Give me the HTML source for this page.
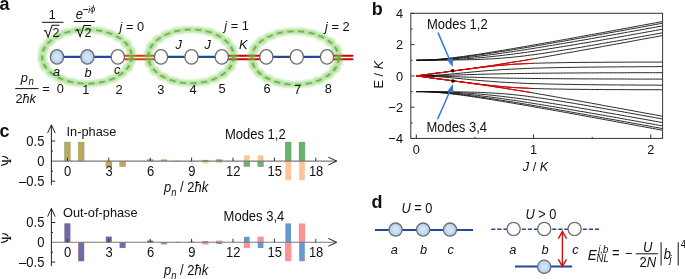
<!DOCTYPE html>
<html><head><meta charset="utf-8"><style>
html,body{margin:0;padding:0;background:#fff;}
svg{display:block;will-change:transform;}
text{font-family:"Liberation Sans", sans-serif;fill:#111;}
</style></head><body>
<svg width="685" height="279" viewBox="0 0 685 279">
<defs>
<radialGradient id="cg" cx="0.5" cy="0.5" r="0.5">
<stop offset="0" stop-color="#e0dfe2"/><stop offset="0.3" stop-color="#d4e4f6"/><stop offset="1" stop-color="#abcbef"/>
</radialGradient>
<filter id="glow" x="-10%" y="-10%" width="120%" height="120%">
<feMorphology in="SourceAlpha" operator="dilate" radius="2.2" result="d"/>
<feGaussianBlur in="d" stdDeviation="0.9" result="b"/>
<feFlood flood-color="#78c850" flood-opacity="0.40"/>
<feComposite in2="b" operator="in" result="g"/>
<feMerge><feMergeNode in="g"/></feMerge>
</filter>
<filter id="blur1" x="-20%" y="-20%" width="140%" height="140%"><feGaussianBlur stdDeviation="0.9"/></filter>
</defs>
<g><line x1="57.0" y1="56.9" x2="117.8" y2="56.9" stroke="#23489a" stroke-width="2.3"/><line x1="161.0" y1="56.9" x2="221.8" y2="56.9" stroke="#23489a" stroke-width="2.3"/><line x1="266.3" y1="56.9" x2="327.0" y2="56.9" stroke="#23489a" stroke-width="2.3"/><line x1="117.8" y1="55.8" x2="161.0" y2="55.8" stroke="#d83c00" stroke-width="1.9" stroke-linecap="round"/><line x1="117.8" y1="59.2" x2="161.0" y2="59.2" stroke="#d83c00" stroke-width="1.9" stroke-linecap="round"/><line x1="221.8" y1="55.8" x2="266.3" y2="55.8" stroke="#cc0000" stroke-width="1.9" stroke-linecap="round"/><line x1="221.8" y1="59.2" x2="266.3" y2="59.2" stroke="#cc0000" stroke-width="1.9" stroke-linecap="round"/><line x1="327.0" y1="55.8" x2="352.5" y2="55.8" stroke="#cc0000" stroke-width="1.9" stroke-linecap="round"/><line x1="327.0" y1="59.2" x2="352.5" y2="59.2" stroke="#cc0000" stroke-width="1.9" stroke-linecap="round"/><g transform="translate(86.9,56.6) scale(1.2,1)"><ellipse cx="0" cy="0" rx="37.33" ry="27.1" fill="none" stroke="#78c850" stroke-opacity="0.17" stroke-width="6.0" filter="url(#blur1)"/></g><g transform="translate(191.0,56.4) scale(1.2,1)"><ellipse cx="0" cy="0" rx="35.58" ry="26.9" fill="none" stroke="#78c850" stroke-opacity="0.17" stroke-width="6.0" filter="url(#blur1)"/></g><g transform="translate(295.2,57.9) scale(1.2,1)"><ellipse cx="0" cy="0" rx="36.25" ry="26.7" fill="none" stroke="#78c850" stroke-opacity="0.17" stroke-width="6.0" filter="url(#blur1)"/></g><g transform="translate(86.9,56.6) scale(1.2,1)"><ellipse cx="0" cy="0" rx="37.33" ry="27.1" fill="none" stroke="#000" stroke-width="1.9" stroke-dasharray="5.1 3.8" filter="url(#glow)"/></g><g transform="translate(191.0,56.4) scale(1.2,1)"><ellipse cx="0" cy="0" rx="35.58" ry="26.9" fill="none" stroke="#000" stroke-width="1.9" stroke-dasharray="5.1 3.8" filter="url(#glow)"/></g><g transform="translate(295.2,57.9) scale(1.2,1)"><ellipse cx="0" cy="0" rx="36.25" ry="26.7" fill="none" stroke="#000" stroke-width="1.9" stroke-dasharray="5.1 3.8" filter="url(#glow)"/></g><g transform="translate(86.9,56.6) scale(1.2,1)"><ellipse cx="0" cy="0" rx="37.33" ry="27.1" fill="none" stroke="#62b040" stroke-opacity="0.85" stroke-width="1.9" stroke-dasharray="5.1 3.8"/></g><g transform="translate(191.0,56.4) scale(1.2,1)"><ellipse cx="0" cy="0" rx="35.58" ry="26.9" fill="none" stroke="#62b040" stroke-opacity="0.85" stroke-width="1.9" stroke-dasharray="5.1 3.8"/></g><g transform="translate(295.2,57.9) scale(1.2,1)"><ellipse cx="0" cy="0" rx="36.25" ry="26.7" fill="none" stroke="#62b040" stroke-opacity="0.85" stroke-width="1.9" stroke-dasharray="5.1 3.8"/></g><ellipse cx="57.0" cy="56.9" rx="6.6" ry="7.2" fill="url(#cg)" stroke="#6e6e6e" stroke-width="1.3"/><ellipse cx="87.4" cy="56.9" rx="6.6" ry="7.2" fill="url(#cg)" stroke="#6e6e6e" stroke-width="1.3"/><ellipse cx="117.8" cy="56.9" rx="6.6" ry="7.2" fill="#fff" stroke="#6e6e6e" stroke-width="1.3"/><ellipse cx="161.0" cy="56.9" rx="6.6" ry="7.2" fill="#fff" stroke="#6e6e6e" stroke-width="1.3"/><ellipse cx="191.5" cy="56.9" rx="6.6" ry="7.2" fill="#fff" stroke="#6e6e6e" stroke-width="1.3"/><ellipse cx="221.8" cy="56.9" rx="6.6" ry="7.2" fill="#fff" stroke="#6e6e6e" stroke-width="1.3"/><ellipse cx="266.3" cy="56.9" rx="6.6" ry="7.2" fill="#fff" stroke="#6e6e6e" stroke-width="1.3"/><ellipse cx="296.8" cy="56.9" rx="6.6" ry="7.2" fill="#fff" stroke="#6e6e6e" stroke-width="1.3"/><ellipse cx="327.0" cy="56.9" rx="6.6" ry="7.2" fill="#fff" stroke="#6e6e6e" stroke-width="1.3"/></g><text transform="translate(-0.6,10.4) scale(1,1.07)" font-size="18" font-weight="bold">a</text><text transform="translate(52.3,18.6) scale(1,1.06)" font-size="12.5" text-anchor="middle">1</text><line x1="42" y1="22.3" x2="63.5" y2="22.3" stroke="#111" stroke-width="1"/><path d="M44,31.2 L45.6,30.4 L48.1,37.2 L52.2,25.2 L59.4,25.2" fill="none" stroke="#111" stroke-width="1.05"/><text transform="translate(52.4,37.2) scale(1,1.06)" font-size="12.5" text-anchor="start">2</text><text transform="translate(75.7,18.9) scale(1,1.06)" font-size="13.2" text-anchor="start" font-style="italic">e</text><line x1="83.2" y1="9.5" x2="88.2" y2="9.5" stroke="#111" stroke-width="0.9"/><text transform="translate(88.3,12.8) scale(1,1.06)" font-size="8.5" text-anchor="start" font-style="italic">i</text><text transform="translate(90.3,12.0) scale(1,1.06)" font-size="9" text-anchor="start" font-style="italic">ϕ</text><line x1="74" y1="21.5" x2="95" y2="21.5" stroke="#111" stroke-width="1"/><path d="M76,30.4 L77.6,29.6 L80.1,36.6 L84.0,25.4 L91.0,25.4" fill="none" stroke="#111" stroke-width="1.05"/><text transform="translate(84.4,37.0) scale(1,1.06)" font-size="12.5" text-anchor="start">2</text><text transform="translate(119.5,31.0) scale(1,1.06)" font-size="12.8" text-anchor="start"><tspan font-style="italic">j</tspan> = 0</text><text transform="translate(224.3,30.3) scale(1,1.06)" font-size="12.8" text-anchor="start"><tspan font-style="italic">j</tspan> = 1</text><text transform="translate(325.0,31.0) scale(1,1.06)" font-size="12.8" text-anchor="start"><tspan font-style="italic">j</tspan> = 2</text><text transform="translate(175.5,48.6) scale(1,1.06)" font-size="12.8" text-anchor="start" font-style="italic">J</text><text transform="translate(204.6,48.6) scale(1,1.06)" font-size="12.8" text-anchor="start" font-style="italic">J</text><text transform="translate(239.0,48.6) scale(1,1.06)" font-size="12.8" text-anchor="start" font-style="italic">K</text><text transform="translate(53.0,75.6) scale(1,1.06)" font-size="12.8" text-anchor="start" font-style="italic">a</text><text transform="translate(84.6,77.0) scale(1,1.06)" font-size="12.8" text-anchor="start" font-style="italic">b</text><text transform="translate(114.0,73.8) scale(1,1.06)" font-size="12.8" text-anchor="start" font-style="italic">c</text><text transform="translate(20.8,81.8) scale(1,1.06)" font-size="12.8" text-anchor="start" font-style="italic">p</text><text transform="translate(28.6,85.4) scale(1,1.06)" font-size="9.6" text-anchor="start" font-style="italic">n</text><line x1="15.2" y1="88.6" x2="38.5" y2="88.6" stroke="#111" stroke-width="1"/><text transform="translate(15.4,102.6) scale(1,1.06)" font-size="12.8" text-anchor="start">2<tspan font-style="italic">ħk</tspan></text><text transform="translate(42.2,93.2) scale(1,1.06)" font-size="12.8" text-anchor="start">=</text><text transform="translate(60.2,93.0) scale(1,1.06)" font-size="12.8" text-anchor="middle">0</text><text transform="translate(85.9,93.5) scale(1,1.06)" font-size="12.8" text-anchor="middle">1</text><text transform="translate(119.1,93.5) scale(1,1.06)" font-size="12.8" text-anchor="middle">2</text><text transform="translate(160.9,93.5) scale(1,1.06)" font-size="12.8" text-anchor="middle">3</text><text transform="translate(193.0,93.5) scale(1,1.06)" font-size="12.8" text-anchor="middle">4</text><text transform="translate(222.0,93.2) scale(1,1.06)" font-size="12.8" text-anchor="middle">5</text><text transform="translate(267.0,93.2) scale(1,1.06)" font-size="12.8" text-anchor="middle">6</text><text transform="translate(297.6,94.2) scale(1,1.06)" font-size="12.8" text-anchor="middle">7</text><text transform="translate(328.2,93.0) scale(1,1.06)" font-size="12.8" text-anchor="middle">8</text><text transform="translate(371.8,15.3) scale(1,1.07)" font-size="18" font-weight="bold">b</text><defs><clipPath id="pb"><rect x="410.8" y="13.3" width="251.8" height="125.10000000000001"/></clipPath></defs><g clip-path="url(#pb)" fill="none" stroke="#111" stroke-width="0.9"><polyline points="416.3,91.6 419.1,91.6 421.9,91.6 424.6,91.7 427.4,91.8 430.2,92.0 433.0,92.1 435.8,92.3 438.5,92.5 441.3,92.8 444.1,93.1 446.9,93.3 449.7,93.6 452.4,94.0 455.2,94.3 458.0,94.7 460.8,95.0 463.6,95.4 466.3,95.8 469.1,96.2 471.9,96.6 474.7,97.0 477.5,97.4 480.2,97.8 483.0,98.3 485.8,98.7 488.6,99.2 491.4,99.6 494.1,100.0 496.9,100.5 499.7,101.0 502.5,101.4 505.3,101.9 508.0,102.4 510.8,102.8 513.6,103.3 516.4,103.8 519.2,104.3 521.9,104.7 524.7,105.2 527.5,105.7 530.3,106.2 533.0,106.7 535.8,107.2 538.6,107.7 541.4,108.2 544.2,108.7 546.9,109.1 549.7,109.6 552.5,110.1 555.3,110.6 558.1,111.1 560.8,111.6 563.6,112.1 566.4,112.6 569.2,113.1 572.0,113.6 574.7,114.1 577.5,114.6 580.3,115.2 583.1,115.7 585.9,116.2 588.6,116.7 591.4,117.2 594.2,117.7 597.0,118.2 599.8,118.7 602.5,119.2 605.3,119.7 608.1,120.2 610.9,120.7 613.7,121.3 616.4,121.8 619.2,122.3 622.0,122.8 624.8,123.3 627.6,123.8 630.3,124.3 633.1,124.8 635.9,125.3 638.7,125.9 641.5,126.4 644.2,126.9 647.0,127.4 649.8,127.9 652.6,128.4 655.4,128.9 658.1,129.5 660.9,130.0 663.7,130.5"/><polyline points="416.3,91.6 419.1,91.6 421.9,91.6 424.6,91.7 427.4,91.8 430.2,91.9 433.0,92.0 435.8,92.2 438.5,92.4 441.3,92.6 444.1,92.8 446.9,93.0 449.7,93.3 452.4,93.6 455.2,93.9 458.0,94.2 460.8,94.5 463.6,94.8 466.3,95.2 469.1,95.5 471.9,95.9 474.7,96.3 477.5,96.7 480.2,97.0 483.0,97.4 485.8,97.8 488.6,98.3 491.4,98.7 494.1,99.1 496.9,99.5 499.7,100.0 502.5,100.4 505.3,100.8 508.0,101.3 510.8,101.7 513.6,102.2 516.4,102.6 519.2,103.1 521.9,103.6 524.7,104.0 527.5,104.5 530.3,104.9 533.0,105.4 535.8,105.9 538.6,106.4 541.4,106.8 544.2,107.3 546.9,107.8 549.7,108.3 552.5,108.8 555.3,109.2 558.1,109.7 560.8,110.2 563.6,110.7 566.4,111.2 569.2,111.7 572.0,112.2 574.7,112.7 577.5,113.2 580.3,113.7 583.1,114.2 585.9,114.7 588.6,115.2 591.4,115.7 594.2,116.2 597.0,116.7 599.8,117.2 602.5,117.7 605.3,118.2 608.1,118.7 610.9,119.2 613.7,119.7 616.4,120.2 619.2,120.7 622.0,121.2 624.8,121.7 627.6,122.2 630.3,122.7 633.1,123.2 635.9,123.7 638.7,124.2 641.5,124.7 644.2,125.2 647.0,125.7 649.8,126.2 652.6,126.8 655.4,127.3 658.1,127.8 660.9,128.3 663.7,128.8"/><polyline points="416.3,91.6 419.1,91.6 421.9,91.6 424.6,91.6 427.4,91.7 430.2,91.8 433.0,91.9 435.8,92.0 438.5,92.1 441.3,92.3 444.1,92.4 446.9,92.6 449.7,92.8 452.4,93.0 455.2,93.2 458.0,93.4 460.8,93.7 463.6,94.0 466.3,94.2 469.1,94.5 471.9,94.8 474.7,95.1 477.5,95.4 480.2,95.8 483.0,96.1 485.8,96.5 488.6,96.8 491.4,97.2 494.1,97.5 496.9,97.9 499.7,98.3 502.5,98.7 505.3,99.1 508.0,99.5 510.8,99.9 513.6,100.3 516.4,100.7 519.2,101.2 521.9,101.6 524.7,102.0 527.5,102.5 530.3,102.9 533.0,103.3 535.8,103.8 538.6,104.2 541.4,104.7 544.2,105.1 546.9,105.6 549.7,106.1 552.5,106.5 555.3,107.0 558.1,107.5 560.8,107.9 563.6,108.4 566.4,108.9 569.2,109.3 572.0,109.8 574.7,110.3 577.5,110.8 580.3,111.3 583.1,111.7 585.9,112.2 588.6,112.7 591.4,113.2 594.2,113.7 597.0,114.2 599.8,114.7 602.5,115.1 605.3,115.6 608.1,116.1 610.9,116.6 613.7,117.1 616.4,117.6 619.2,118.1 622.0,118.6 624.8,119.1 627.6,119.6 630.3,120.1 633.1,120.6 635.9,121.1 638.7,121.6 641.5,122.1 644.2,122.6 647.0,123.1 649.8,123.6 652.6,124.1 655.4,124.6 658.1,125.1 660.9,125.6 663.7,126.1"/><polyline points="416.3,91.6 419.1,91.6 421.9,91.6 424.6,91.6 427.4,91.6 430.2,91.7 433.0,91.7 435.8,91.8 438.5,91.8 441.3,91.9 444.1,92.0 446.9,92.1 449.7,92.2 452.4,92.3 455.2,92.5 458.0,92.6 460.8,92.7 463.6,92.9 466.3,93.1 469.1,93.3 471.9,93.5 474.7,93.7 477.5,93.9 480.2,94.1 483.0,94.4 485.8,94.6 488.6,94.9 491.4,95.2 494.1,95.5 496.9,95.8 499.7,96.1 502.5,96.4 505.3,96.8 508.0,97.1 510.8,97.4 513.6,97.8 516.4,98.2 519.2,98.6 521.9,98.9 524.7,99.3 527.5,99.7 530.3,100.1 533.0,100.5 535.8,100.9 538.6,101.4 541.4,101.8 544.2,102.2 546.9,102.6 549.7,103.1 552.5,103.5 555.3,104.0 558.1,104.4 560.8,104.9 563.6,105.3 566.4,105.8 569.2,106.2 572.0,106.7 574.7,107.1 577.5,107.6 580.3,108.1 583.1,108.6 585.9,109.0 588.6,109.5 591.4,110.0 594.2,110.5 597.0,110.9 599.8,111.4 602.5,111.9 605.3,112.4 608.1,112.9 610.9,113.3 613.7,113.8 616.4,114.3 619.2,114.8 622.0,115.3 624.8,115.8 627.6,116.3 630.3,116.8 633.1,117.3 635.9,117.8 638.7,118.3 641.5,118.8 644.2,119.3 647.0,119.8 649.8,120.3 652.6,120.8 655.4,121.3 658.1,121.8 660.9,122.3 663.7,122.8"/><polyline points="416.3,91.6 419.1,91.6 421.9,91.6 424.6,91.6 427.4,91.6 430.2,91.6 433.0,91.6 435.8,91.6 438.5,91.6 441.3,91.7 444.1,91.7 446.9,91.7 449.7,91.7 452.4,91.8 455.2,91.8 458.0,91.9 460.8,91.9 463.6,92.0 466.3,92.0 469.1,92.1 471.9,92.2 474.7,92.2 477.5,92.3 480.2,92.4 483.0,92.5 485.8,92.7 488.6,92.8 491.4,93.0 494.1,93.1 496.9,93.3 499.7,93.5 502.5,93.7 505.3,93.9 508.0,94.2 510.8,94.4 513.6,94.7 516.4,95.0 519.2,95.3 521.9,95.6 524.7,95.9 527.5,96.3 530.3,96.7 533.0,97.0 535.8,97.4 538.6,97.8 541.4,98.2 544.2,98.6 546.9,99.0 549.7,99.5 552.5,99.9 555.3,100.3 558.1,100.8 560.8,101.2 563.6,101.7 566.4,102.1 569.2,102.6 572.0,103.0 574.7,103.5 577.5,104.0 580.3,104.4 583.1,104.9 585.9,105.4 588.6,105.9 591.4,106.4 594.2,106.8 597.0,107.3 599.8,107.8 602.5,108.3 605.3,108.8 608.1,109.3 610.9,109.8 613.7,110.2 616.4,110.7 619.2,111.2 622.0,111.7 624.8,112.2 627.6,112.7 630.3,113.2 633.1,113.7 635.9,114.2 638.7,114.7 641.5,115.2 644.2,115.7 647.0,116.2 649.8,116.7 652.6,117.2 655.4,117.7 658.1,118.2 660.9,118.7 663.7,119.2"/><polyline points="416.3,75.9 419.1,76.3 421.9,76.6 424.6,77.0 427.4,77.4 430.2,77.8 433.0,78.1 435.8,78.5 438.5,78.9 441.3,79.2 444.1,79.6 446.9,80.0 449.7,80.4 452.4,80.7 455.2,81.1 458.0,81.5 460.8,81.9 463.6,82.2 466.3,82.6 469.1,83.0 471.9,83.4 474.7,83.8 477.5,84.2 480.2,84.6 483.0,85.0 485.8,85.4 488.6,85.8 491.4,86.2 494.1,86.6 496.9,87.0 499.7,87.5 502.5,87.9 505.3,88.4 508.0,88.8 510.8,89.2 513.6,89.7 516.4,90.1 519.2,90.6 521.9,91.1 524.7,91.5 527.5,92.0 530.3,92.5 533.0,92.9 535.8,93.4 538.6,93.9 541.4,94.4 544.2,94.8 546.9,95.3 549.7,95.8 552.5,96.3 555.3,96.8 558.1,97.3 560.8,97.8 563.6,98.3 566.4,98.8 569.2,99.2 572.0,99.7 574.7,100.2 577.5,100.7 580.3,101.2 583.1,101.7 585.9,102.2 588.6,102.7 591.4,103.2 594.2,103.7 597.0,104.2 599.8,104.7 602.5,105.3 605.3,105.8 608.1,106.3 610.9,106.8 613.7,107.3 616.4,107.8 619.2,108.3 622.0,108.8 624.8,109.3 627.6,109.8 630.3,110.3 633.1,110.8 635.9,111.4 638.7,111.9 641.5,112.4 644.2,112.9 647.0,113.4 649.8,113.9 652.6,114.4 655.4,114.9 658.1,115.4 660.9,116.0 663.7,116.5"/><polyline points="416.3,75.9 419.1,76.3 421.9,76.6 424.6,77.0 427.4,77.4 430.2,77.8 433.0,78.1 435.8,78.5 438.5,78.9 441.3,79.2 444.1,79.6 446.9,80.0 449.7,80.3 452.4,80.7 455.2,81.1 458.0,81.5 460.8,81.8 463.6,82.2 466.3,82.5 469.1,82.9 471.9,83.2 474.7,83.6 477.5,83.9 480.2,84.3 483.0,84.6 485.8,84.9 488.6,85.2 491.4,85.5 494.1,85.8 496.9,86.1 499.7,86.4 502.5,86.6 505.3,86.9 508.0,87.1 510.8,87.3 513.6,87.5 516.4,87.7 519.2,87.8 521.9,88.0 524.7,88.1 527.5,88.2 530.3,88.3 533.0,88.5 535.8,88.6 538.6,88.6 541.4,88.7 544.2,88.8 546.9,88.9 549.7,88.9 552.5,89.0 555.3,89.0 558.1,89.1 560.8,89.1 563.6,89.2 566.4,89.2 569.2,89.3 572.0,89.3 574.7,89.3 577.5,89.3 580.3,89.4 583.1,89.4 585.9,89.4 588.6,89.4 591.4,89.5 594.2,89.5 597.0,89.5 599.8,89.5 602.5,89.5 605.3,89.6 608.1,89.6 610.9,89.6 613.7,89.6 616.4,89.6 619.2,89.6 622.0,89.6 624.8,89.6 627.6,89.7 630.3,89.7 633.1,89.7 635.9,89.7 638.7,89.7 641.5,89.7 644.2,89.7 647.0,89.7 649.8,89.7 652.6,89.7 655.4,89.7 658.1,89.7 660.9,89.8 663.7,89.8"/><polyline points="416.3,75.9 419.1,75.9 421.9,76.0 424.6,76.0 427.4,76.1 430.2,76.2 433.0,76.4 435.8,76.6 438.5,76.7 441.3,76.9 444.1,77.2 446.9,77.4 449.7,77.6 452.4,77.9 455.2,78.2 458.0,78.4 460.8,78.7 463.6,79.0 466.3,79.2 469.1,79.5 471.9,79.8 474.7,80.0 477.5,80.3 480.2,80.5 483.0,80.8 485.8,81.0 488.6,81.2 491.4,81.4 494.1,81.6 496.9,81.8 499.7,82.0 502.5,82.2 505.3,82.3 508.0,82.5 510.8,82.6 513.6,82.8 516.4,82.9 519.2,83.0 521.9,83.2 524.7,83.3 527.5,83.4 530.3,83.5 533.0,83.6 535.8,83.7 538.6,83.7 541.4,83.8 544.2,83.9 546.9,84.0 549.7,84.0 552.5,84.1 555.3,84.2 558.1,84.2 560.8,84.3 563.6,84.3 566.4,84.4 569.2,84.4 572.0,84.4 574.7,84.5 577.5,84.5 580.3,84.6 583.1,84.6 585.9,84.6 588.6,84.7 591.4,84.7 594.2,84.7 597.0,84.8 599.8,84.8 602.5,84.8 605.3,84.8 608.1,84.9 610.9,84.9 613.7,84.9 616.4,84.9 619.2,84.9 622.0,85.0 624.8,85.0 627.6,85.0 630.3,85.0 633.1,85.0 635.9,85.0 638.7,85.1 641.5,85.1 644.2,85.1 647.0,85.1 649.8,85.1 652.6,85.1 655.4,85.1 658.1,85.2 660.9,85.2 663.7,85.2"/><polyline points="416.3,75.9 419.1,75.9 421.9,75.9 424.6,75.9 427.4,76.0 430.2,76.0 433.0,76.1 435.8,76.1 438.5,76.2 441.3,76.3 444.1,76.4 446.9,76.5 449.7,76.5 452.4,76.6 455.2,76.7 458.0,76.8 460.8,76.9 463.6,77.0 466.3,77.1 469.1,77.2 471.9,77.2 474.7,77.3 477.5,77.4 480.2,77.5 483.0,77.6 485.8,77.6 488.6,77.7 491.4,77.8 494.1,77.8 496.9,77.9 499.7,78.0 502.5,78.0 505.3,78.1 508.0,78.1 510.8,78.2 513.6,78.2 516.4,78.3 519.2,78.3 521.9,78.3 524.7,78.4 527.5,78.4 530.3,78.4 533.0,78.5 535.8,78.5 538.6,78.5 541.4,78.6 544.2,78.6 546.9,78.6 549.7,78.6 552.5,78.7 555.3,78.7 558.1,78.7 560.8,78.7 563.6,78.8 566.4,78.8 569.2,78.8 572.0,78.8 574.7,78.8 577.5,78.8 580.3,78.9 583.1,78.9 585.9,78.9 588.6,78.9 591.4,78.9 594.2,78.9 597.0,78.9 599.8,79.0 602.5,79.0 605.3,79.0 608.1,79.0 610.9,79.0 613.7,79.0 616.4,79.0 619.2,79.0 622.0,79.0 624.8,79.0 627.6,79.1 630.3,79.1 633.1,79.1 635.9,79.1 638.7,79.1 641.5,79.1 644.2,79.1 647.0,79.1 649.8,79.1 652.6,79.1 655.4,79.1 658.1,79.1 660.9,79.1 663.7,79.1"/><polyline points="416.3,75.9 419.1,75.9 421.9,75.9 424.6,75.9 427.4,75.8 430.2,75.8 433.0,75.7 435.8,75.7 438.5,75.6 441.3,75.5 444.1,75.4 446.9,75.3 449.7,75.3 452.4,75.2 455.2,75.1 458.0,75.0 460.8,74.9 463.6,74.8 466.3,74.7 469.1,74.6 471.9,74.6 474.7,74.5 477.5,74.4 480.2,74.3 483.0,74.2 485.8,74.2 488.6,74.1 491.4,74.0 494.1,74.0 496.9,73.9 499.7,73.8 502.5,73.8 505.3,73.7 508.0,73.7 510.8,73.6 513.6,73.6 516.4,73.5 519.2,73.5 521.9,73.5 524.7,73.4 527.5,73.4 530.3,73.4 533.0,73.3 535.8,73.3 538.6,73.3 541.4,73.2 544.2,73.2 546.9,73.2 549.7,73.2 552.5,73.1 555.3,73.1 558.1,73.1 560.8,73.1 563.6,73.0 566.4,73.0 569.2,73.0 572.0,73.0 574.7,73.0 577.5,73.0 580.3,72.9 583.1,72.9 585.9,72.9 588.6,72.9 591.4,72.9 594.2,72.9 597.0,72.9 599.8,72.8 602.5,72.8 605.3,72.8 608.1,72.8 610.9,72.8 613.7,72.8 616.4,72.8 619.2,72.8 622.0,72.8 624.8,72.8 627.6,72.7 630.3,72.7 633.1,72.7 635.9,72.7 638.7,72.7 641.5,72.7 644.2,72.7 647.0,72.7 649.8,72.7 652.6,72.7 655.4,72.7 658.1,72.7 660.9,72.7 663.7,72.7"/><polyline points="416.3,75.9 419.1,75.9 421.9,75.8 424.6,75.8 427.4,75.7 430.2,75.6 433.0,75.4 435.8,75.2 438.5,75.1 441.3,74.9 444.1,74.6 446.9,74.4 449.7,74.2 452.4,73.9 455.2,73.6 458.0,73.4 460.8,73.1 463.6,72.8 466.3,72.6 469.1,72.3 471.9,72.0 474.7,71.8 477.5,71.5 480.2,71.3 483.0,71.0 485.8,70.8 488.6,70.6 491.4,70.4 494.1,70.2 496.9,70.0 499.7,69.8 502.5,69.6 505.3,69.5 508.0,69.3 510.8,69.2 513.6,69.0 516.4,68.9 519.2,68.8 521.9,68.6 524.7,68.5 527.5,68.4 530.3,68.3 533.0,68.2 535.8,68.1 538.6,68.1 541.4,68.0 544.2,67.9 546.9,67.8 549.7,67.8 552.5,67.7 555.3,67.6 558.1,67.6 560.8,67.5 563.6,67.5 566.4,67.4 569.2,67.4 572.0,67.4 574.7,67.3 577.5,67.3 580.3,67.2 583.1,67.2 585.9,67.2 588.6,67.1 591.4,67.1 594.2,67.1 597.0,67.0 599.8,67.0 602.5,67.0 605.3,67.0 608.1,66.9 610.9,66.9 613.7,66.9 616.4,66.9 619.2,66.9 622.0,66.8 624.8,66.8 627.6,66.8 630.3,66.8 633.1,66.8 635.9,66.8 638.7,66.7 641.5,66.7 644.2,66.7 647.0,66.7 649.8,66.7 652.6,66.7 655.4,66.7 658.1,66.6 660.9,66.6 663.7,66.6"/><polyline points="416.3,75.9 419.1,75.5 421.9,75.2 424.6,74.8 427.4,74.4 430.2,74.0 433.0,73.7 435.8,73.3 438.5,72.9 441.3,72.6 444.1,72.2 446.9,71.8 449.7,71.5 452.4,71.1 455.2,70.7 458.0,70.3 460.8,70.0 463.6,69.6 466.3,69.3 469.1,68.9 471.9,68.6 474.7,68.2 477.5,67.9 480.2,67.5 483.0,67.2 485.8,66.9 488.6,66.6 491.4,66.3 494.1,66.0 496.9,65.7 499.7,65.4 502.5,65.2 505.3,64.9 508.0,64.7 510.8,64.5 513.6,64.3 516.4,64.1 519.2,64.0 521.9,63.8 524.7,63.7 527.5,63.6 530.3,63.5 533.0,63.3 535.8,63.2 538.6,63.2 541.4,63.1 544.2,63.0 546.9,62.9 549.7,62.9 552.5,62.8 555.3,62.8 558.1,62.7 560.8,62.7 563.6,62.6 566.4,62.6 569.2,62.5 572.0,62.5 574.7,62.5 577.5,62.5 580.3,62.4 583.1,62.4 585.9,62.4 588.6,62.4 591.4,62.3 594.2,62.3 597.0,62.3 599.8,62.3 602.5,62.3 605.3,62.2 608.1,62.2 610.9,62.2 613.7,62.2 616.4,62.2 619.2,62.2 622.0,62.2 624.8,62.2 627.6,62.1 630.3,62.1 633.1,62.1 635.9,62.1 638.7,62.1 641.5,62.1 644.2,62.1 647.0,62.1 649.8,62.1 652.6,62.1 655.4,62.1 658.1,62.1 660.9,62.0 663.7,62.0"/><polyline points="416.3,75.9 419.1,75.5 421.9,75.2 424.6,74.8 427.4,74.4 430.2,74.0 433.0,73.7 435.8,73.3 438.5,72.9 441.3,72.6 444.1,72.2 446.9,71.8 449.7,71.4 452.4,71.1 455.2,70.7 458.0,70.3 460.8,69.9 463.6,69.6 466.3,69.2 469.1,68.8 471.9,68.4 474.7,68.0 477.5,67.6 480.2,67.2 483.0,66.8 485.8,66.4 488.6,66.0 491.4,65.6 494.1,65.2 496.9,64.8 499.7,64.3 502.5,63.9 505.3,63.4 508.0,63.0 510.8,62.6 513.6,62.1 516.4,61.7 519.2,61.2 521.9,60.7 524.7,60.3 527.5,59.8 530.3,59.3 533.0,58.9 535.8,58.4 538.6,57.9 541.4,57.4 544.2,57.0 546.9,56.5 549.7,56.0 552.5,55.5 555.3,55.0 558.1,54.5 560.8,54.0 563.6,53.5 566.4,53.0 569.2,52.6 572.0,52.1 574.7,51.6 577.5,51.1 580.3,50.6 583.1,50.1 585.9,49.6 588.6,49.1 591.4,48.6 594.2,48.1 597.0,47.6 599.8,47.1 602.5,46.5 605.3,46.0 608.1,45.5 610.9,45.0 613.7,44.5 616.4,44.0 619.2,43.5 622.0,43.0 624.8,42.5 627.6,42.0 630.3,41.5 633.1,41.0 635.9,40.4 638.7,39.9 641.5,39.4 644.2,38.9 647.0,38.4 649.8,37.9 652.6,37.4 655.4,36.9 658.1,36.4 660.9,35.8 663.7,35.3"/><polyline points="416.3,60.3 419.1,60.2 421.9,60.2 424.6,60.2 427.4,60.2 430.2,60.2 433.0,60.2 435.8,60.2 438.5,60.2 441.3,60.1 444.1,60.1 446.9,60.1 449.7,60.1 452.4,60.0 455.2,60.0 458.0,59.9 460.8,59.9 463.6,59.8 466.3,59.8 469.1,59.7 471.9,59.6 474.7,59.6 477.5,59.5 480.2,59.4 483.0,59.3 485.8,59.1 488.6,59.0 491.4,58.8 494.1,58.7 496.9,58.5 499.7,58.3 502.5,58.1 505.3,57.9 508.0,57.6 510.8,57.4 513.6,57.1 516.4,56.8 519.2,56.5 521.9,56.2 524.7,55.9 527.5,55.5 530.3,55.1 533.0,54.8 535.8,54.4 538.6,54.0 541.4,53.6 544.2,53.2 546.9,52.8 549.7,52.3 552.5,51.9 555.3,51.5 558.1,51.0 560.8,50.6 563.6,50.1 566.4,49.7 569.2,49.2 572.0,48.8 574.7,48.3 577.5,47.8 580.3,47.4 583.1,46.9 585.9,46.4 588.6,45.9 591.4,45.4 594.2,45.0 597.0,44.5 599.8,44.0 602.5,43.5 605.3,43.0 608.1,42.5 610.9,42.0 613.7,41.6 616.4,41.1 619.2,40.6 622.0,40.1 624.8,39.6 627.6,39.1 630.3,38.6 633.1,38.1 635.9,37.6 638.7,37.1 641.5,36.6 644.2,36.1 647.0,35.6 649.8,35.1 652.6,34.6 655.4,34.1 658.1,33.6 660.9,33.1 663.7,32.6"/><polyline points="416.3,60.3 419.1,60.2 421.9,60.2 424.6,60.2 427.4,60.2 430.2,60.1 433.0,60.1 435.8,60.0 438.5,60.0 441.3,59.9 444.1,59.8 446.9,59.7 449.7,59.6 452.4,59.5 455.2,59.3 458.0,59.2 460.8,59.1 463.6,58.9 466.3,58.7 469.1,58.5 471.9,58.3 474.7,58.1 477.5,57.9 480.2,57.7 483.0,57.4 485.8,57.2 488.6,56.9 491.4,56.6 494.1,56.3 496.9,56.0 499.7,55.7 502.5,55.4 505.3,55.0 508.0,54.7 510.8,54.4 513.6,54.0 516.4,53.6 519.2,53.2 521.9,52.9 524.7,52.5 527.5,52.1 530.3,51.7 533.0,51.3 535.8,50.9 538.6,50.4 541.4,50.0 544.2,49.6 546.9,49.2 549.7,48.7 552.5,48.3 555.3,47.8 558.1,47.4 560.8,46.9 563.6,46.5 566.4,46.0 569.2,45.6 572.0,45.1 574.7,44.7 577.5,44.2 580.3,43.7 583.1,43.2 585.9,42.8 588.6,42.3 591.4,41.8 594.2,41.3 597.0,40.9 599.8,40.4 602.5,39.9 605.3,39.4 608.1,38.9 610.9,38.5 613.7,38.0 616.4,37.5 619.2,37.0 622.0,36.5 624.8,36.0 627.6,35.5 630.3,35.0 633.1,34.5 635.9,34.0 638.7,33.5 641.5,33.0 644.2,32.5 647.0,32.0 649.8,31.5 652.6,31.0 655.4,30.5 658.1,30.0 660.9,29.5 663.7,29.0"/><polyline points="416.3,60.3 419.1,60.2 421.9,60.2 424.6,60.2 427.4,60.1 430.2,60.0 433.0,59.9 435.8,59.8 438.5,59.7 441.3,59.5 444.1,59.4 446.9,59.2 449.7,59.0 452.4,58.8 455.2,58.6 458.0,58.4 460.8,58.1 463.6,57.8 466.3,57.6 469.1,57.3 471.9,57.0 474.7,56.7 477.5,56.4 480.2,56.0 483.0,55.7 485.8,55.3 488.6,55.0 491.4,54.6 494.1,54.3 496.9,53.9 499.7,53.5 502.5,53.1 505.3,52.7 508.0,52.3 510.8,51.9 513.6,51.5 516.4,51.1 519.2,50.6 521.9,50.2 524.7,49.8 527.5,49.3 530.3,48.9 533.0,48.5 535.8,48.0 538.6,47.6 541.4,47.1 544.2,46.7 546.9,46.2 549.7,45.7 552.5,45.3 555.3,44.8 558.1,44.3 560.8,43.9 563.6,43.4 566.4,42.9 569.2,42.5 572.0,42.0 574.7,41.5 577.5,41.0 580.3,40.5 583.1,40.1 585.9,39.6 588.6,39.1 591.4,38.6 594.2,38.1 597.0,37.6 599.8,37.1 602.5,36.7 605.3,36.2 608.1,35.7 610.9,35.2 613.7,34.7 616.4,34.2 619.2,33.7 622.0,33.2 624.8,32.7 627.6,32.2 630.3,31.7 633.1,31.2 635.9,30.7 638.7,30.2 641.5,29.7 644.2,29.2 647.0,28.7 649.8,28.2 652.6,27.7 655.4,27.2 658.1,26.7 660.9,26.2 663.7,25.7"/><polyline points="416.3,60.3 419.1,60.2 421.9,60.2 424.6,60.1 427.4,60.0 430.2,59.9 433.0,59.8 435.8,59.6 438.5,59.4 441.3,59.2 444.1,59.0 446.9,58.8 449.7,58.5 452.4,58.2 455.2,57.9 458.0,57.6 460.8,57.3 463.6,57.0 466.3,56.6 469.1,56.3 471.9,55.9 474.7,55.5 477.5,55.1 480.2,54.8 483.0,54.4 485.8,54.0 488.6,53.5 491.4,53.1 494.1,52.7 496.9,52.3 499.7,51.8 502.5,51.4 505.3,51.0 508.0,50.5 510.8,50.1 513.6,49.6 516.4,49.2 519.2,48.7 521.9,48.2 524.7,47.8 527.5,47.3 530.3,46.9 533.0,46.4 535.8,45.9 538.6,45.4 541.4,45.0 544.2,44.5 546.9,44.0 549.7,43.5 552.5,43.0 555.3,42.6 558.1,42.1 560.8,41.6 563.6,41.1 566.4,40.6 569.2,40.1 572.0,39.6 574.7,39.1 577.5,38.6 580.3,38.1 583.1,37.6 585.9,37.1 588.6,36.6 591.4,36.1 594.2,35.6 597.0,35.1 599.8,34.6 602.5,34.1 605.3,33.6 608.1,33.1 610.9,32.6 613.7,32.1 616.4,31.6 619.2,31.1 622.0,30.6 624.8,30.1 627.6,29.6 630.3,29.1 633.1,28.6 635.9,28.1 638.7,27.6 641.5,27.1 644.2,26.6 647.0,26.1 649.8,25.6 652.6,25.0 655.4,24.5 658.1,24.0 660.9,23.5 663.7,23.0"/><polyline points="416.3,60.3 419.1,60.2 421.9,60.2 424.6,60.1 427.4,60.0 430.2,59.8 433.0,59.7 435.8,59.5 438.5,59.3 441.3,59.0 444.1,58.7 446.9,58.5 449.7,58.2 452.4,57.8 455.2,57.5 458.0,57.1 460.8,56.8 463.6,56.4 466.3,56.0 469.1,55.6 471.9,55.2 474.7,54.8 477.5,54.4 480.2,54.0 483.0,53.5 485.8,53.1 488.6,52.6 491.4,52.2 494.1,51.8 496.9,51.3 499.7,50.8 502.5,50.4 505.3,49.9 508.0,49.4 510.8,49.0 513.6,48.5 516.4,48.0 519.2,47.5 521.9,47.1 524.7,46.6 527.5,46.1 530.3,45.6 533.0,45.1 535.8,44.6 538.6,44.1 541.4,43.6 544.2,43.1 546.9,42.7 549.7,42.2 552.5,41.7 555.3,41.2 558.1,40.7 560.8,40.2 563.6,39.7 566.4,39.2 569.2,38.7 572.0,38.2 574.7,37.7 577.5,37.2 580.3,36.6 583.1,36.1 585.9,35.6 588.6,35.1 591.4,34.6 594.2,34.1 597.0,33.6 599.8,33.1 602.5,32.6 605.3,32.1 608.1,31.6 610.9,31.1 613.7,30.5 616.4,30.0 619.2,29.5 622.0,29.0 624.8,28.5 627.6,28.0 630.3,27.5 633.1,27.0 635.9,26.5 638.7,25.9 641.5,25.4 644.2,24.9 647.0,24.4 649.8,23.9 652.6,23.4 655.4,22.9 658.1,22.3 660.9,21.8 663.7,21.3"/></g><g fill="none" stroke="#f20000" stroke-width="1.05"><polyline points="416.3,75.9 419.2,76.3 422.2,76.7 425.1,77.1 428.1,77.5 431.0,77.9 434.0,78.3 436.9,78.7 439.9,79.0 442.8,79.4 445.8,79.8 448.7,80.2 451.7,80.6 454.6,81.0 457.5,81.4 460.5,81.8 463.4,82.2 466.4,82.6 469.3,83.0 472.3,83.4 475.2,83.9 478.2,84.3 481.1,84.7 484.1,85.1 487.0,85.6 490.0,86.0 492.9,86.4 495.8,86.9 498.8,87.3 501.7,87.8 504.7,88.3 507.6,88.7 510.6,89.2 513.5,89.7 516.5,90.2 519.4,90.6 522.4,91.1 525.3,91.6 528.3,92.1 531.2,92.6"/><polyline points="416.3,75.9 419.2,76.3 422.2,76.7 425.1,77.1 428.1,77.5 431.0,77.9 434.0,78.3 436.9,78.7 439.9,79.0 442.8,79.4 445.8,79.8 448.7,80.2 451.7,80.6 454.6,81.0 457.5,81.4 460.5,81.8 463.4,82.2 466.4,82.5 469.3,82.9 472.3,83.3 475.2,83.7 478.2,84.0 481.1,84.4 484.1,84.7 487.0,85.1 490.0,85.4 492.9,85.7 495.8,86.0 498.8,86.3 501.7,86.6 504.7,86.8 507.6,87.0 510.6,87.3 513.5,87.5 516.5,87.7 519.4,87.8 522.4,88.0 525.3,88.1 528.3,88.3 531.2,88.4"/><polyline points="416.3,75.9 419.2,75.5 422.2,75.1 425.1,74.7 428.1,74.3 431.0,73.9 434.0,73.5 436.9,73.1 439.9,72.8 442.8,72.4 445.8,72.0 448.7,71.6 451.7,71.2 454.6,70.8 457.5,70.4 460.5,70.0 463.4,69.6 466.4,69.3 469.3,68.9 472.3,68.5 475.2,68.1 478.2,67.8 481.1,67.4 484.1,67.1 487.0,66.7 490.0,66.4 492.9,66.1 495.8,65.8 498.8,65.5 501.7,65.2 504.7,65.0 507.6,64.8 510.6,64.5 513.5,64.3 516.5,64.1 519.4,64.0 522.4,63.8 525.3,63.7 528.3,63.5 531.2,63.4"/><polyline points="416.3,75.9 419.2,75.5 422.2,75.1 425.1,74.7 428.1,74.3 431.0,73.9 434.0,73.5 436.9,73.1 439.9,72.8 442.8,72.4 445.8,72.0 448.7,71.6 451.7,71.2 454.6,70.8 457.5,70.4 460.5,70.0 463.4,69.6 466.4,69.2 469.3,68.8 472.3,68.4 475.2,67.9 478.2,67.5 481.1,67.1 484.1,66.7 487.0,66.2 490.0,65.8 492.9,65.4 495.8,64.9 498.8,64.5 501.7,64.0 504.7,63.5 507.6,63.1 510.6,62.6 513.5,62.1 516.5,61.6 519.4,61.2 522.4,60.7 525.3,60.2 528.3,59.7 531.2,59.2"/></g><rect x="410.8" y="13.3" width="251.8" height="125.10000000000001" fill="none" stroke="#333" stroke-width="1"/><g stroke="#333" stroke-width="1"><line x1="410.8" y1="138.5" x2="414.40000000000003" y2="138.5"/><line x1="410.8" y1="122.9" x2="412.6" y2="122.9"/><line x1="410.8" y1="107.2" x2="414.40000000000003" y2="107.2"/><line x1="410.8" y1="91.6" x2="412.6" y2="91.6"/><line x1="410.8" y1="75.9" x2="414.40000000000003" y2="75.9"/><line x1="410.8" y1="60.3" x2="412.6" y2="60.3"/><line x1="410.8" y1="44.6" x2="414.40000000000003" y2="44.6"/><line x1="410.8" y1="29.0" x2="412.6" y2="29.0"/><line x1="410.8" y1="13.3" x2="414.40000000000003" y2="13.3"/><line x1="416.3" y1="138.4" x2="416.3" y2="134.4"/><line x1="474.9" y1="138.4" x2="474.9" y2="136.9"/><line x1="533.5" y1="138.4" x2="533.5" y2="134.4"/><line x1="592.2" y1="138.4" x2="592.2" y2="136.9"/><line x1="650.8" y1="138.4" x2="650.8" y2="134.4"/></g><line x1="410.8" y1="75.9" x2="415.0" y2="75.9" stroke="#999" stroke-width="1"/><text transform="translate(403.2,17.900000000000006) scale(1,1.06)" font-size="12.8" text-anchor="end">4</text><text transform="translate(403.2,49.20000000000001) scale(1,1.06)" font-size="12.8" text-anchor="end">2</text><text transform="translate(403.2,80.5) scale(1,1.06)" font-size="12.8" text-anchor="end">0</text><text transform="translate(403.2,111.8) scale(1,1.06)" font-size="12.8" text-anchor="end">−2</text><text transform="translate(403.2,143.1) scale(1,1.06)" font-size="12.8" text-anchor="end">−4</text><text transform="translate(416.3,154.2) scale(1,1.06)" font-size="12.8" text-anchor="middle">0</text><text transform="translate(533.55,154.2) scale(1,1.06)" font-size="12.8" text-anchor="middle">1</text><text transform="translate(650.8,154.2) scale(1,1.06)" font-size="12.8" text-anchor="middle">2</text><text transform="translate(535.5,170.6) scale(1,1.06)" font-size="12.8" text-anchor="middle"><tspan font-style="italic">J</tspan> / <tspan font-style="italic">K</tspan></text><text transform="translate(382.6,74.6) rotate(-90)" font-size="12.8" text-anchor="middle">E / <tspan font-style="italic">K</tspan></text><text transform="translate(427.0,29.0) scale(1,1.06)" font-size="13" text-anchor="start">Modes 1,2</text><text transform="translate(426.4,131.8) scale(1,1.06)" font-size="13" text-anchor="start">Modes 3,4</text><line x1="438" y1="32.6" x2="450.2" y2="61" stroke="#3f74cc" stroke-width="1.5"/><path d="M452.6,67 L446.8,59.6 L453.2,58.2 Z" fill="#3f74cc"/><line x1="437.6" y1="119.3" x2="450.4" y2="90" stroke="#3f74cc" stroke-width="1.5"/><path d="M452.8,84 L447.2,91.6 L453.4,92.8 Z" fill="#3f74cc"/><circle cx="452.6" cy="70.7" r="1.7" fill="#000"/><circle cx="452.8" cy="81.0" r="1.7" fill="#000"/><text transform="translate(-0.6,137.0) scale(1,1.07)" font-size="18" font-weight="bold">c</text><rect x="64.25" y="141.88" width="6.3" height="19.22" fill="#69b26e"/><rect x="64.60" y="141.97" width="5.6" height="19.13" fill="rgba(255,155,83,0.6)"/><rect x="78.05" y="141.90" width="6.3" height="19.20" fill="#69b26e"/><rect x="78.40" y="141.95" width="5.6" height="19.15" fill="rgba(255,155,83,0.6)"/><rect x="105.65" y="161.10" width="6.3" height="5.77" fill="#69b26e"/><rect x="106.00" y="161.10" width="5.6" height="5.73" fill="rgba(255,155,83,0.6)"/><rect x="119.45" y="161.10" width="6.3" height="5.62" fill="#69b26e"/><rect x="119.80" y="161.10" width="5.6" height="5.88" fill="rgba(255,155,83,0.6)"/><rect x="147.05" y="159.37" width="6.3" height="1.73" fill="#69b26e"/><rect x="147.40" y="159.38" width="5.6" height="1.72" fill="rgba(255,155,83,0.6)"/><rect x="160.85" y="159.89" width="6.3" height="1.21" fill="#69b26e"/><rect x="161.20" y="158.87" width="5.6" height="2.23" fill="rgba(255,155,83,0.6)"/><rect x="174.65" y="161.10" width="6.3" height="0.52" fill="#69b26e"/><rect x="175.00" y="160.59" width="5.6" height="0.51" fill="rgba(255,155,83,0.6)"/><rect x="188.45" y="161.10" width="6.3" height="0.52" fill="#69b26e"/><rect x="188.80" y="161.10" width="5.6" height="0.51" fill="rgba(255,155,83,0.6)"/><rect x="202.25" y="159.89" width="6.3" height="1.21" fill="#69b26e"/><rect x="202.60" y="161.10" width="5.6" height="2.23" fill="rgba(255,155,83,0.6)"/><rect x="216.05" y="159.37" width="6.3" height="1.73" fill="#69b26e"/><rect x="216.40" y="161.10" width="5.6" height="1.72" fill="rgba(255,155,83,0.6)"/><rect x="243.65" y="161.10" width="6.3" height="5.62" fill="#69b26e"/><rect x="244.00" y="155.22" width="5.6" height="5.88" fill="rgba(255,155,83,0.6)"/><rect x="257.45" y="161.10" width="6.3" height="5.77" fill="#69b26e"/><rect x="257.80" y="155.37" width="5.6" height="5.73" fill="rgba(255,155,83,0.6)"/><rect x="285.05" y="141.90" width="6.3" height="19.20" fill="#69b26e"/><rect x="285.40" y="161.10" width="5.6" height="19.15" fill="rgba(255,155,83,0.6)"/><rect x="298.85" y="141.88" width="6.3" height="19.22" fill="#69b26e"/><rect x="299.20" y="161.10" width="5.6" height="19.13" fill="rgba(255,155,83,0.6)"/><line x1="51.4" y1="161.1" x2="336.5" y2="161.1" stroke="#7a7a7a" stroke-width="1.1"/><path d="M328.3,157.2 L336.8,161.1 L328.3,165.0" fill="none" stroke="#222" stroke-width="1"/><line x1="51.4" y1="125.1" x2="51.4" y2="184.9" stroke="#222" stroke-width="1"/><path d="M47.6,133.1 L51.4,124.8 L55.199999999999996,133.1" fill="none" stroke="#222" stroke-width="1"/><line x1="51.4" y1="181.2" x2="55.199999999999996" y2="181.2" stroke="#222" stroke-width="1"/><line x1="51.4" y1="171.2" x2="53.0" y2="171.2" stroke="#222" stroke-width="1"/><line x1="51.4" y1="151.0" x2="53.0" y2="151.0" stroke="#222" stroke-width="1"/><line x1="51.4" y1="141.0" x2="55.199999999999996" y2="141.0" stroke="#222" stroke-width="1"/><line x1="67.4" y1="161.1" x2="67.4" y2="157.6" stroke="#333" stroke-width="1"/><line x1="108.8" y1="161.1" x2="108.8" y2="157.6" stroke="#333" stroke-width="1"/><line x1="150.2" y1="161.1" x2="150.2" y2="157.6" stroke="#333" stroke-width="1"/><line x1="191.6" y1="161.1" x2="191.6" y2="157.6" stroke="#333" stroke-width="1"/><line x1="233.0" y1="161.1" x2="233.0" y2="157.6" stroke="#333" stroke-width="1"/><line x1="274.4" y1="161.1" x2="274.4" y2="157.6" stroke="#333" stroke-width="1"/><line x1="315.8" y1="161.1" x2="315.8" y2="157.6" stroke="#333" stroke-width="1"/><text transform="translate(44.4,145.7) scale(1,1.06)" font-size="13" text-anchor="end">0.5</text><text transform="translate(44.4,165.79999999999998) scale(1,1.06)" font-size="13" text-anchor="end">0</text><text transform="translate(44.4,185.89999999999998) scale(1,1.06)" font-size="13" text-anchor="end">–0.5</text><text transform="translate(67.7,175.9) scale(1,1.06)" font-size="13" text-anchor="middle">0</text><text transform="translate(109.10000000000001,175.9) scale(1,1.06)" font-size="13" text-anchor="middle">3</text><text transform="translate(150.50000000000003,175.9) scale(1,1.06)" font-size="13" text-anchor="middle">6</text><text transform="translate(191.90000000000003,175.9) scale(1,1.06)" font-size="13" text-anchor="middle">9</text><text transform="translate(233.30000000000004,175.9) scale(1,1.06)" font-size="13" text-anchor="middle">12</text><text transform="translate(274.7,175.9) scale(1,1.06)" font-size="13" text-anchor="middle">15</text><text transform="translate(316.1,175.9) scale(1,1.06)" font-size="13" text-anchor="middle">18</text><text transform="translate(66.5,135.7) scale(1,1.06)" font-size="12.8" text-anchor="start">In-phase</text><text transform="translate(225.0,139.1) scale(1,1.06)" font-size="13" text-anchor="start">Modes 1,2</text><g fill="none" stroke="#111"><path d="M2.2,156.6 C4.5,156.2 7,156.8 8.2,159.4" stroke-width="1.05"/><path d="M1,165.4 C3.5,164.8 6.5,164.6 8,162.4" stroke-width="1.05"/><path d="M1.8,161.0 L10.4,161.0" stroke-width="1.45"/><path d="M10.4,159.5 L10.4,162.5" stroke-width="1.3"/></g><text transform="translate(164.0,192.2) scale(1,1.06)" font-size="13" text-anchor="start"><tspan font-style="italic">p</tspan><tspan font-style="italic" font-size="9.5" dy="3.6">n</tspan><tspan dy="-3.6"> / 2</tspan><tspan font-style="italic">ħk</tspan></text><rect x="64.25" y="223.46" width="6.3" height="18.84" fill="#fa9296"/><rect x="64.60" y="223.36" width="5.6" height="18.94" fill="rgba(15,91,180,0.63)"/><rect x="78.05" y="242.30" width="6.3" height="18.86" fill="#fa9296"/><rect x="78.40" y="242.30" width="5.6" height="18.92" fill="rgba(15,91,180,0.63)"/><rect x="105.65" y="236.65" width="6.3" height="5.65" fill="#fa9296"/><rect x="106.00" y="236.61" width="5.6" height="5.69" fill="rgba(15,91,180,0.63)"/><rect x="119.45" y="242.30" width="6.3" height="5.79" fill="#fa9296"/><rect x="119.80" y="242.30" width="5.6" height="5.54" fill="rgba(15,91,180,0.63)"/><rect x="147.05" y="240.61" width="6.3" height="1.69" fill="#fa9296"/><rect x="147.40" y="240.59" width="5.6" height="1.71" fill="rgba(15,91,180,0.63)"/><rect x="160.85" y="242.30" width="6.3" height="2.20" fill="#fa9296"/><rect x="161.20" y="242.30" width="5.6" height="1.20" fill="rgba(15,91,180,0.63)"/><rect x="174.65" y="241.79" width="6.3" height="0.51" fill="#fa9296"/><rect x="175.00" y="242.30" width="5.6" height="0.51" fill="rgba(15,91,180,0.63)"/><rect x="188.45" y="241.79" width="6.3" height="0.51" fill="#fa9296"/><rect x="188.80" y="241.79" width="5.6" height="0.51" fill="rgba(15,91,180,0.63)"/><rect x="202.25" y="242.30" width="6.3" height="2.20" fill="#fa9296"/><rect x="202.60" y="241.10" width="5.6" height="1.20" fill="rgba(15,91,180,0.63)"/><rect x="216.05" y="240.61" width="6.3" height="1.69" fill="#fa9296"/><rect x="216.40" y="242.30" width="5.6" height="1.71" fill="rgba(15,91,180,0.63)"/><rect x="243.65" y="242.30" width="6.3" height="5.79" fill="#fa9296"/><rect x="244.00" y="236.76" width="5.6" height="5.54" fill="rgba(15,91,180,0.63)"/><rect x="257.45" y="236.65" width="6.3" height="5.65" fill="#fa9296"/><rect x="257.80" y="242.30" width="5.6" height="5.69" fill="rgba(15,91,180,0.63)"/><rect x="285.05" y="242.30" width="6.3" height="18.86" fill="#fa9296"/><rect x="285.40" y="223.38" width="5.6" height="18.92" fill="rgba(15,91,180,0.63)"/><rect x="298.85" y="223.46" width="6.3" height="18.84" fill="#fa9296"/><rect x="299.20" y="242.30" width="5.6" height="18.94" fill="rgba(15,91,180,0.63)"/><line x1="51.4" y1="242.3" x2="336.5" y2="242.3" stroke="#7a7a7a" stroke-width="1.1"/><path d="M328.3,238.4 L336.8,242.3 L328.3,246.20000000000002" fill="none" stroke="#222" stroke-width="1"/><line x1="51.4" y1="208.70000000000002" x2="51.4" y2="266.1" stroke="#222" stroke-width="1"/><path d="M47.6,216.70000000000002 L51.4,208.4 L55.199999999999996,216.70000000000002" fill="none" stroke="#222" stroke-width="1"/><line x1="51.4" y1="262.1" x2="55.199999999999996" y2="262.1" stroke="#222" stroke-width="1"/><line x1="51.4" y1="252.2" x2="53.0" y2="252.2" stroke="#222" stroke-width="1"/><line x1="51.4" y1="232.4" x2="53.0" y2="232.4" stroke="#222" stroke-width="1"/><line x1="51.4" y1="222.5" x2="55.199999999999996" y2="222.5" stroke="#222" stroke-width="1"/><line x1="67.4" y1="242.3" x2="67.4" y2="238.8" stroke="#333" stroke-width="1"/><line x1="108.8" y1="242.3" x2="108.8" y2="238.8" stroke="#333" stroke-width="1"/><line x1="150.2" y1="242.3" x2="150.2" y2="238.8" stroke="#333" stroke-width="1"/><line x1="191.6" y1="242.3" x2="191.6" y2="238.8" stroke="#333" stroke-width="1"/><line x1="233.0" y1="242.3" x2="233.0" y2="238.8" stroke="#333" stroke-width="1"/><line x1="274.4" y1="242.3" x2="274.4" y2="238.8" stroke="#333" stroke-width="1"/><line x1="315.8" y1="242.3" x2="315.8" y2="238.8" stroke="#333" stroke-width="1"/><text transform="translate(44.4,227.2) scale(1,1.06)" font-size="13" text-anchor="end">0.5</text><text transform="translate(44.4,247.0) scale(1,1.06)" font-size="13" text-anchor="end">0</text><text transform="translate(44.4,266.8) scale(1,1.06)" font-size="13" text-anchor="end">–0.5</text><text transform="translate(67.7,257.1) scale(1,1.06)" font-size="13" text-anchor="middle">0</text><text transform="translate(109.10000000000001,257.1) scale(1,1.06)" font-size="13" text-anchor="middle">3</text><text transform="translate(150.50000000000003,257.1) scale(1,1.06)" font-size="13" text-anchor="middle">6</text><text transform="translate(191.90000000000003,257.1) scale(1,1.06)" font-size="13" text-anchor="middle">9</text><text transform="translate(233.30000000000004,257.1) scale(1,1.06)" font-size="13" text-anchor="middle">12</text><text transform="translate(274.7,257.1) scale(1,1.06)" font-size="13" text-anchor="middle">15</text><text transform="translate(316.1,257.1) scale(1,1.06)" font-size="13" text-anchor="middle">18</text><text transform="translate(63.0,216.9) scale(1,1.06)" font-size="12.8" text-anchor="start">Out-of-phase</text><text transform="translate(223.6,221.20000000000002) scale(1,1.06)" font-size="13" text-anchor="start">Modes 3,4</text><g fill="none" stroke="#111"><path d="M2.2,233.79999999999998 C4.5,233.39999999999998 7,234.0 8.2,236.6" stroke-width="1.05"/><path d="M1,242.6 C3.5,242.0 6.5,241.79999999999998 8,239.6" stroke-width="1.05"/><path d="M1.8,238.2 L10.4,238.2" stroke-width="1.45"/><path d="M10.4,236.7 L10.4,239.7" stroke-width="1.3"/></g><text transform="translate(164.0,274.8) scale(1,1.06)" font-size="13" text-anchor="start"><tspan font-style="italic">p</tspan><tspan font-style="italic" font-size="9.5" dy="3.6">n</tspan><tspan dy="-3.6"> / 2</tspan><tspan font-style="italic">ħk</tspan></text><text transform="translate(371.6,207.9) scale(1,1.07)" font-size="18" font-weight="bold">d</text><text transform="translate(401.5,213.0) scale(1,1.13)" font-size="12.8" text-anchor="start"><tspan font-style="italic">U</tspan> = 0</text><line x1="375" y1="230" x2="473" y2="230" stroke="#23489a" stroke-width="2"/><circle cx="395.6" cy="229.6" r="6.6" fill="url(#cg)" stroke="#6e6e6e" stroke-width="1.3"/><circle cx="423.1" cy="229.6" r="6.6" fill="url(#cg)" stroke="#6e6e6e" stroke-width="1.3"/><circle cx="450.0" cy="229.6" r="6.6" fill="url(#cg)" stroke="#6e6e6e" stroke-width="1.3"/><text transform="translate(390.8,254.2) scale(1,1.06)" font-size="12.8" text-anchor="start" font-style="italic">a</text><text transform="translate(420.1,254.2) scale(1,1.06)" font-size="12.8" text-anchor="start" font-style="italic">b</text><text transform="translate(447.6,254.2) scale(1,1.06)" font-size="12.8" text-anchor="start" font-style="italic">c</text><text transform="translate(525.4,219.0) scale(1,1.13)" font-size="12.8" text-anchor="start"><tspan font-style="italic">U</tspan> &gt; 0</text><line x1="491.2" y1="229.3" x2="599" y2="229.3" stroke="#23489a" stroke-width="1.6" stroke-dasharray="4.2 1.9"/><circle cx="513.6" cy="229" r="6.6" fill="#fff" stroke="#6e6e6e" stroke-width="1.3"/><circle cx="544.2" cy="229" r="6.6" fill="#fff" stroke="#6e6e6e" stroke-width="1.3"/><circle cx="574.6" cy="229" r="6.6" fill="#fff" stroke="#6e6e6e" stroke-width="1.3"/><text transform="translate(509.2,254.3) scale(1,1.06)" font-size="12.8" text-anchor="start" font-style="italic">a</text><text transform="translate(541.6,254.3) scale(1,1.06)" font-size="12.8" text-anchor="start" font-style="italic">b</text><text transform="translate(572.2,254.3) scale(1,1.06)" font-size="12.8" text-anchor="start" font-style="italic">c</text><line x1="515" y1="266.6" x2="572.2" y2="266.6" stroke="#23489a" stroke-width="2"/><circle cx="544.2" cy="266.8" r="6.6" fill="url(#cg)" stroke="#6e6e6e" stroke-width="1.3"/><line x1="562.4" y1="231.8" x2="562.4" y2="266" stroke="#cc1111" stroke-width="1.4"/><path d="M558.3,238.6 L562.4,231.5 L566.5,238.6 M558.3,259.4 L562.4,266.3 L566.5,259.4" fill="none" stroke="#cc1111" stroke-width="1.4"/><text transform="translate(587.8,260.0) scale(1,1.06)" font-size="13.5" text-anchor="start" font-style="italic">E</text><text transform="translate(598.2,252.6) scale(1,1.06)" font-size="9.5" text-anchor="start" font-style="italic">j,b</text><text transform="translate(596.6,262.0) scale(1,1.06)" font-size="9.5" text-anchor="start" font-style="italic">NL</text><text transform="translate(612.0,258.4) scale(1,1.06)" font-size="13" text-anchor="start">=</text><text transform="translate(624.8,258.4) scale(1,1.06)" font-size="13" text-anchor="start">−</text><line x1="635.7" y1="253.8" x2="657.9" y2="253.8" stroke="#111" stroke-width="1"/><text transform="translate(647.8,251.6) scale(1,1.06)" font-size="13" text-anchor="middle" font-style="italic">U</text><text transform="translate(647.8,266.8) scale(1,1.06)" font-size="13" text-anchor="middle">2<tspan font-style="italic">N</tspan></text><line x1="661.1" y1="242.2" x2="661.1" y2="265.5" stroke="#111" stroke-width="1"/><text transform="translate(663.8,259.2) scale(1,1.06)" font-size="13" text-anchor="start" font-style="italic">b</text><text transform="translate(669.4,262.6) scale(1,1.06)" font-size="9.5" text-anchor="start" font-style="italic">j</text><line x1="678.2" y1="242.2" x2="678.2" y2="265.5" stroke="#111" stroke-width="1"/><text transform="translate(680.8,248.4) scale(1,1.06)" font-size="9.5" text-anchor="start">4</text>
</svg></body></html>
